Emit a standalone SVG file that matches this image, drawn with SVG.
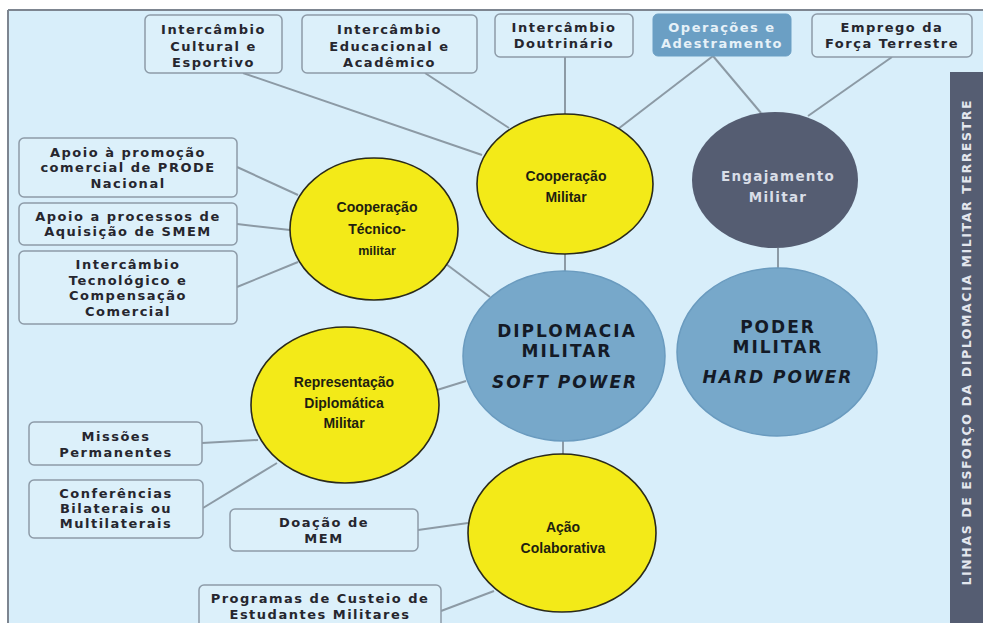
<svg xmlns="http://www.w3.org/2000/svg" width="983" height="623" viewBox="0 0 983 623">
<style>
.box{fill:#dcf0fa;stroke:#8d9ba8;stroke-width:1.5}
.bt{font-family:"DejaVu Sans",sans-serif;font-weight:bold;font-size:13px;fill:#26262e;letter-spacing:1.5px;text-anchor:middle}
.conn line{stroke:#8c9aa5;stroke-width:2}
.yel{fill:#f3ea18;stroke:#2a2a1a;stroke-width:1.6}
.yt{font-family:"Liberation Sans",Arial,sans-serif;font-weight:bold;font-size:14px;fill:#1f1f10;text-anchor:middle}
.big{fill:#77a8ca;stroke:#6a9bbf;stroke-width:1.5}
.bigt{font-family:"DejaVu Sans",sans-serif;font-weight:bold;font-size:17px;fill:#141a26;letter-spacing:2px;text-anchor:middle}
</style>
<rect x="0" y="0" width="983" height="623" fill="#ffffff"/>
<rect x="8" y="10" width="980" height="620" fill="#d8eefa"/>
<line x1="8" y1="10" x2="983" y2="10" stroke="#7d8590" stroke-width="2"/>
<line x1="8" y1="10" x2="8" y2="623" stroke="#7d8590" stroke-width="2"/>

<g id="connectors" class="conn">
<line x1="243" y1="73" x2="482" y2="155"/>
<line x1="425" y1="73" x2="509" y2="128"/>
<line x1="565" y1="57" x2="565" y2="114"/>
<line x1="713" y1="56" x2="618" y2="129"/>
<line x1="713" y1="56" x2="761" y2="113"/>
<line x1="892" y1="57" x2="808" y2="116"/>
<line x1="565" y1="254" x2="565" y2="272"/>
<line x1="778" y1="248" x2="778" y2="268"/>
<line x1="237" y1="167" x2="298" y2="195"/>
<line x1="237" y1="224" x2="290" y2="230"/>
<line x1="237" y1="287" x2="298" y2="262"/>
<line x1="446" y1="264" x2="490" y2="297"/>
<line x1="437" y1="390" x2="466" y2="381"/>
<line x1="202" y1="443" x2="258" y2="440"/>
<line x1="203" y1="508" x2="277" y2="463"/>
<line x1="563" y1="441" x2="563" y2="455"/>
<line x1="418" y1="530" x2="468" y2="523"/>
<line x1="441" y1="611" x2="494" y2="591"/>
</g>

<g id="box-cultural"><rect class="box" x="145" y="15" width="137" height="58" rx="5"/>
<text class="bt" x="213.5" y="34">Intercâmbio</text><text class="bt" x="213.5" y="51">Cultural e</text><text class="bt" x="213.5" y="67">Esportivo</text></g>
<g id="box-educacional"><rect class="box" x="302" y="15" width="175" height="58" rx="5"/>
<text class="bt" x="389.5" y="34">Intercâmbio</text><text class="bt" x="389.5" y="51">Educacional e</text><text class="bt" x="389.5" y="67">Acadêmico</text></g>
<g id="box-doutrinario"><rect class="box" x="495" y="14" width="138" height="43" rx="5"/>
<text class="bt" x="564" y="32">Intercâmbio</text><text class="bt" x="564" y="48">Doutrinário</text></g>
<g id="box-operacoes"><rect x="653" y="14" width="138" height="42" rx="5" fill="#6b9fc4" stroke="#6b9fc4"/>
<text class="bt" x="722" y="32" style="fill:#e6f1f8">Operações e</text><text class="bt" x="722" y="48" style="fill:#e6f1f8">Adestramento</text></g>
<g id="box-emprego"><rect class="box" x="812" y="14" width="160" height="43" rx="5"/>
<text class="bt" x="892" y="32">Emprego da</text><text class="bt" x="892" y="48">Força Terrestre</text></g>

<g id="box-prode"><rect class="box" x="19" y="138" width="218" height="59" rx="5"/>
<text class="bt" x="128" y="157">Apoio à promoção</text><text class="bt" x="128" y="172">comercial de PRODE</text><text class="bt" x="128" y="188">Nacional</text></g>
<g id="box-smem"><rect class="box" x="19" y="203" width="218" height="42" rx="5"/>
<text class="bt" x="128" y="221">Apoio a processos de</text><text class="bt" x="128" y="236">Aquisição de SMEM</text></g>
<g id="box-tecnologico"><rect class="box" x="19" y="251" width="218" height="73" rx="5"/>
<text class="bt" x="128" y="269">Intercâmbio</text><text class="bt" x="128" y="285">Tecnológico e</text><text class="bt" x="128" y="300">Compensação</text><text class="bt" x="128" y="316">Comercial</text></g>
<g id="box-missoes"><rect class="box" x="29" y="422" width="173" height="43" rx="5"/>
<text class="bt" x="116" y="441">Missões</text><text class="bt" x="116" y="457">Permanentes</text></g>
<g id="box-conferencias"><rect class="box" x="29" y="480" width="174" height="58" rx="5"/>
<text class="bt" x="116" y="498">Conferências</text><text class="bt" x="116" y="513">Bilaterais ou</text><text class="bt" x="116" y="528">Multilaterais</text></g>
<g id="box-doacao"><rect class="box" x="230" y="509" width="188" height="42" rx="5"/>
<text class="bt" x="324" y="527">Doação de</text><text class="bt" x="324" y="543">MEM</text></g>
<g id="box-programas"><rect class="box" x="199" y="585" width="242" height="50" rx="5"/>
<text class="bt" x="320" y="603">Programas de Custeio de</text><text class="bt" x="320" y="619">Estudantes Militares</text></g>

<g id="node-cooperacao-militar"><ellipse class="yel" cx="565" cy="184" rx="88" ry="70"/>
<text class="yt" x="566" y="181">Cooperação</text><text class="yt" x="566" y="202">Militar</text></g>
<g id="node-engajamento"><ellipse cx="775" cy="180" rx="83" ry="68" fill="#555d72"/>
<text class="bt" x="778" y="181" style="font-size:13.5px;letter-spacing:1.3px;fill:#d9dee7">Engajamento</text><text class="bt" x="778" y="202" style="font-size:13.5px;letter-spacing:1.3px;fill:#d9dee7">Militar</text></g>
<g id="node-tecnico"><ellipse class="yel" cx="374" cy="229" rx="84" ry="71"/>
<text class="yt" x="377" y="212">Cooperação</text><text class="yt" x="377" y="234">Técnico-</text><text class="yt" x="377" y="255" style="font-size:12.5px">militar</text></g>
<g id="node-diplomacia"><ellipse class="big" cx="564" cy="356" rx="101" ry="85"/>
<text class="bigt" x="567" y="337">DIPLOMACIA</text><text class="bigt" x="567" y="357">MILITAR</text><text class="bigt" x="565" y="388" style="font-style:italic">SOFT POWER</text></g>
<g id="node-poder"><ellipse class="big" cx="777" cy="352" rx="100" ry="84"/>
<text class="bigt" x="778" y="333">PODER</text><text class="bigt" x="778" y="353">MILITAR</text><text class="bigt" x="778" y="383" style="font-style:italic">HARD POWER</text></g>
<g id="node-representacao"><ellipse class="yel" cx="345" cy="405" rx="94" ry="78"/>
<text class="yt" x="344" y="387">Representação</text><text class="yt" x="344" y="408">Diplomática</text><text class="yt" x="344" y="428">Militar</text></g>
<g id="node-acao"><ellipse class="yel" cx="562" cy="533" rx="94" ry="79"/>
<text class="yt" x="563" y="532">Ação</text><text class="yt" x="563" y="553">Colaborativa</text></g>

<g id="side-bar"><rect x="950" y="72" width="33" height="551" fill="#555d72"/>
<text transform="translate(971,343) rotate(-90)" text-anchor="middle" font-family="DejaVu Sans, sans-serif" font-weight="bold" font-size="12.5" fill="#e4e7ee" textLength="485" lengthAdjust="spacing">LINHAS DE ESFORÇO DA DIPLOMACIA MILITAR TERRESTRE</text></g>
</svg>
